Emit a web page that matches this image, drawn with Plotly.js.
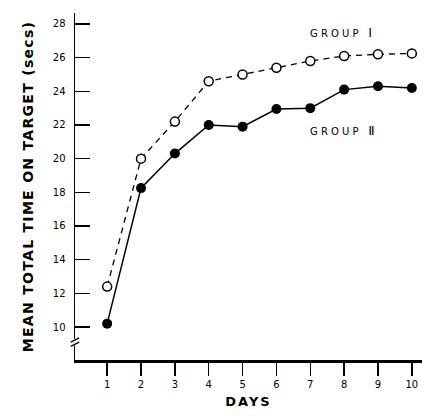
<!DOCTYPE html>
<html><head><meta charset="utf-8">
<script src="https://cdn.plot.ly/plotly-3.0.1.min.js"></script>
<style>body{margin:0;background:#fff}#chart{width:430px;height:420px}</style>
</head><body><div id="chart"></div>
<script>
const days = [1,2,3,4,5,6,7,8,9,10];
const groupI = [12.4,20.0,22.2,24.6,25.0,25.4,25.8,26.1,26.2,26.25];
const groupII = [10.2,18.25,20.3,22.0,21.9,22.95,23.0,24.1,24.3,24.2];
const yTicks = [10,12,14,16,18,20,22,24,26,28];
const xTicks = days;

const traces = [
  {x: days, y: groupI, mode:'lines+markers', name:'GROUP I',
   line:{color:'#000', width:1.3, dash:'6px,5px'},
   marker:{symbol:'circle', size:9, color:'#fff', line:{color:'#000', width:1.5}}},
  {x: days, y: groupII, mode:'lines+markers', name:'GROUP II',
   line:{color:'#000', width:1.5},
   marker:{symbol:'circle', size:10, color:'#000'}}
];

const layout = {
  width:430, height:420,
  margin:{l:75, r:8, t:13, b:60},
  paper_bgcolor:'#fff', plot_bgcolor:'#fff',
  showlegend:false,
  font:{family:'DejaVu Sans', color:'#000'},
  xaxis:{range:[0.05,10.3], tickvals:xTicks, ticktext:xTicks.map(String),
    showgrid:false, zeroline:false, showline:true, linewidth:3, linecolor:'#000',
    ticks:'outside', ticklen:13, tickwidth:1.5, tickcolor:'#000',
    tickfont:{size:10, family:'DejaVu Sans'},
    title:{text:'<b><span style="letter-spacing:2px">DAYS</span></b>', font:{size:13, family:'DejaVu Sans'}, standoff:8}},
  yaxis:{range:[8.04,28.65], tickvals:yTicks, ticktext:yTicks.map(String),
    showgrid:false, zeroline:false, showline:true, linewidth:1.5, linecolor:'#000',
    ticks:'inside', ticklen:15, tickwidth:1.5, tickcolor:'#000', ticklabelstandoff:6,
    tickfont:{size:10, family:'DejaVu Sans'},
    title:{text:'<b><span style="letter-spacing:1.3px">MEAN TOTAL TIME ON TARGET (secs)</span></b>', font:{size:14, family:'DejaVu Sans'}, standoff:16}},
  shapes:[
    {type:'rect', xref:'paper', yref:'y', x0:-0.01, x1:0.01, y0:8.9, y1:9.3, fillcolor:'#fff', line:{width:0}},
    {type:'line', xref:'paper', yref:'y', x0:-0.012, x1:0.012, y0:8.85, y1:9.1, line:{color:'#000', width:1.3}},
    {type:'line', xref:'paper', yref:'y', x0:-0.012, x1:0.012, y0:9.1, y1:9.35, line:{color:'#000', width:1.3}}
  ],
  annotations:[
    {x:7.9, y:27.5, xref:'x', yref:'y', text:'G R O U P &nbsp;&nbsp;<span style="font-size:13px">Ⅰ</span>', showarrow:false, font:{size:10, family:'DejaVu Sans'}},
    {x:7.95, y:21.7, xref:'x', yref:'y', text:'G R O U P &nbsp;&nbsp;<span style="font-size:13px">Ⅱ</span>', showarrow:false, font:{size:10, family:'DejaVu Sans'}}
  ]
};
Plotly.newPlot('chart', traces, layout, {staticPlot:true});
</script></body></html>
